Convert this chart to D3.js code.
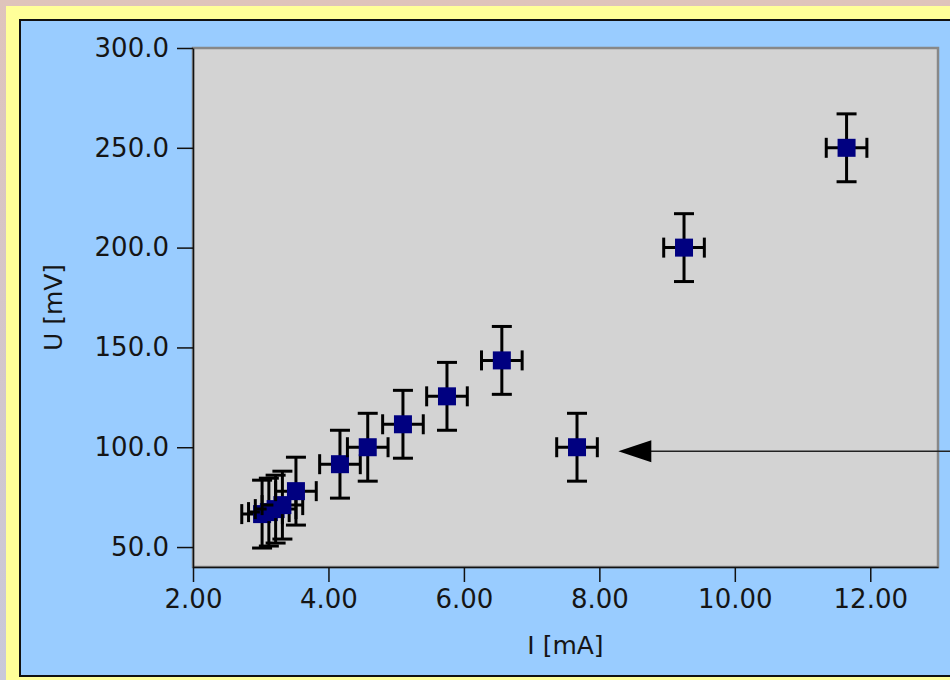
<!DOCTYPE html>
<html>
<head>
<meta charset="utf-8">
<script src="https://cdn.jsdelivr.net/npm/d3@7"></script>
<style>
  html, body { margin: 0; padding: 0; background: #fff; }
  svg { display: block; }
  .tick text { font-family: "DejaVu Sans", sans-serif; font-size: 26px; fill: #151515; }
</style>
</head>
<body>
<svg id="chart" width="950" height="680"></svg>
<script>
// measured values, current in mA and voltage in mV
var currentMA = [3.02, 3.12, 3.22, 3.32, 3.52, 4.17, 4.58, 5.10, 5.75, 6.56, 7.67, 9.25, 11.65];
var voltageMV = [66.5, 67.5, 69.0, 71.0, 78.0, 91.5, 100.0, 111.5, 125.5, 143.5, 100.0, 200.0, 250.0];
var errCurrent = [0.3, 0.3, 0.3, 0.3, 0.3, 0.3, 0.3, 0.3, 0.3, 0.3, 0.3, 0.3, 0.3];
var errVoltage = [17, 17, 17, 17, 17, 17, 17, 17, 17, 17, 17, 17, 17];

var xTicks = [2, 4, 6, 8, 10, 12];
var yTicks = [50, 100, 150, 200, 250, 300];

// arrow pointing at the outlier (tail runs off the right edge)
var arrowTip = [8.28, 98];
var arrowTail = [13.6, 98];

var W = 950, H = 680;
var plot = {left: 193, right: 938, top: 48, bottom: 567};

var svg = d3.select("#chart");

// page background + yellow frame + blue panel
var grad = svg.append("defs").append("linearGradient")
    .attr("id", "bg").attr("x1", 0).attr("y1", 0).attr("x2", 0).attr("y2", 1);
grad.append("stop").attr("offset", "0%").attr("stop-color", "#dfc4bb");
grad.append("stop").attr("offset", "100%").attr("stop-color", "#c9c9d9");

svg.append("rect").attr("width", W).attr("height", H).attr("fill", "url(#bg)");
svg.append("rect").attr("x", 6).attr("y", 6).attr("width", W).attr("height", H)
    .attr("fill", "#ffff99");
svg.append("rect").attr("x", 20).attr("y", 20).attr("width", W + 10).attr("height", 656)
    .attr("fill", "#99ccff").attr("stroke", "#111").attr("stroke-width", 2);

var x = d3.scaleLinear().domain([2, 13]).range([plot.left, plot.right]);
var y = d3.scaleLinear().domain([40, 300]).range([plot.bottom, plot.top]);

// plot area
svg.append("rect")
    .attr("x", plot.left).attr("y", plot.top)
    .attr("width", plot.right - plot.left).attr("height", plot.bottom - plot.top)
    .attr("fill", "#d3d3d3").attr("stroke", "#888").attr("stroke-width", 2.5);

// axes
var xAxis = d3.axisBottom(x).tickValues(xTicks).tickFormat(d3.format(".2f"))
    .tickSize(15).tickSizeOuter(0).tickPadding(8);
var yAxis = d3.axisLeft(y).tickValues(yTicks).tickFormat(d3.format(".1f"))
    .tickSize(16).tickSizeOuter(0).tickPadding(8);

var gx = svg.append("g").attr("transform", "translate(0," + plot.bottom + ")").call(xAxis);
var gy = svg.append("g").attr("transform", "translate(" + plot.left + ",0)").call(yAxis);
[gx, gy].forEach(function(g) {
    g.selectAll("path, line").attr("stroke", "#111").attr("stroke-width", 1.5);
});

// axis titles
svg.append("text")
    .attr("x", (plot.left + plot.right) / 2).attr("y", 654)
    .attr("text-anchor", "middle")
    .style("font-family", "DejaVu Sans, sans-serif").style("font-size", "25px").style("fill", "#151515")
    .text("I [mA]");
svg.append("text")
    .attr("transform", "translate(62," + (plot.top + plot.bottom) / 2 + ") rotate(-90)")
    .attr("text-anchor", "middle")
    .style("font-family", "DejaVu Sans, sans-serif").style("font-size", "25px").style("fill", "#151515")
    .text("U [mV]");

// points with error bars
var data = currentMA.map(function(d, i) {
    return {i: d, u: voltageMV[i], di: errCurrent[i], du: errVoltage[i]};
});

var cap = 10, box = 18;
var pts = svg.append("g").selectAll("g").data(data).enter().append("g");

pts.each(function(d) {
    var g = d3.select(this);
    var cx = x(d.i), cy = y(d.u);
    var x0 = x(d.i - d.di), x1 = x(d.i + d.di);
    var y0 = y(d.u - d.du), y1 = y(d.u + d.du);
    var segs = [
        [cx, y0, cx, y1], [cx - cap, y0, cx + cap, y0], [cx - cap, y1, cx + cap, y1],
        [x0, cy, x1, cy], [x0, cy - cap, x0, cy + cap], [x1, cy - cap, x1, cy + cap]
    ];
    g.selectAll("line").data(segs).enter().append("line")
        .attr("x1", function(s) { return s[0]; }).attr("y1", function(s) { return s[1]; })
        .attr("x2", function(s) { return s[2]; }).attr("y2", function(s) { return s[3]; })
        .attr("stroke", "#000").attr("stroke-width", 3);
    g.append("rect")
        .attr("x", cx - box / 2).attr("y", cy - box / 2)
        .attr("width", box).attr("height", box)
        .attr("fill", "#000080");
});

// annotation arrow
var tipX = x(arrowTip[0]), tipY = y(arrowTip[1]);
svg.append("line")
    .attr("x1", x(arrowTail[0])).attr("y1", y(arrowTail[1]))
    .attr("x2", tipX + 30).attr("y2", tipY)
    .attr("stroke", "#222").attr("stroke-width", 1.5);
svg.append("path")
    .attr("d", "M" + tipX + "," + tipY + "L" + (tipX + 33) + "," + (tipY - 11) +
               "L" + (tipX + 33) + "," + (tipY + 11) + "Z")
    .attr("fill", "#000");
</script>
</body>
</html>
